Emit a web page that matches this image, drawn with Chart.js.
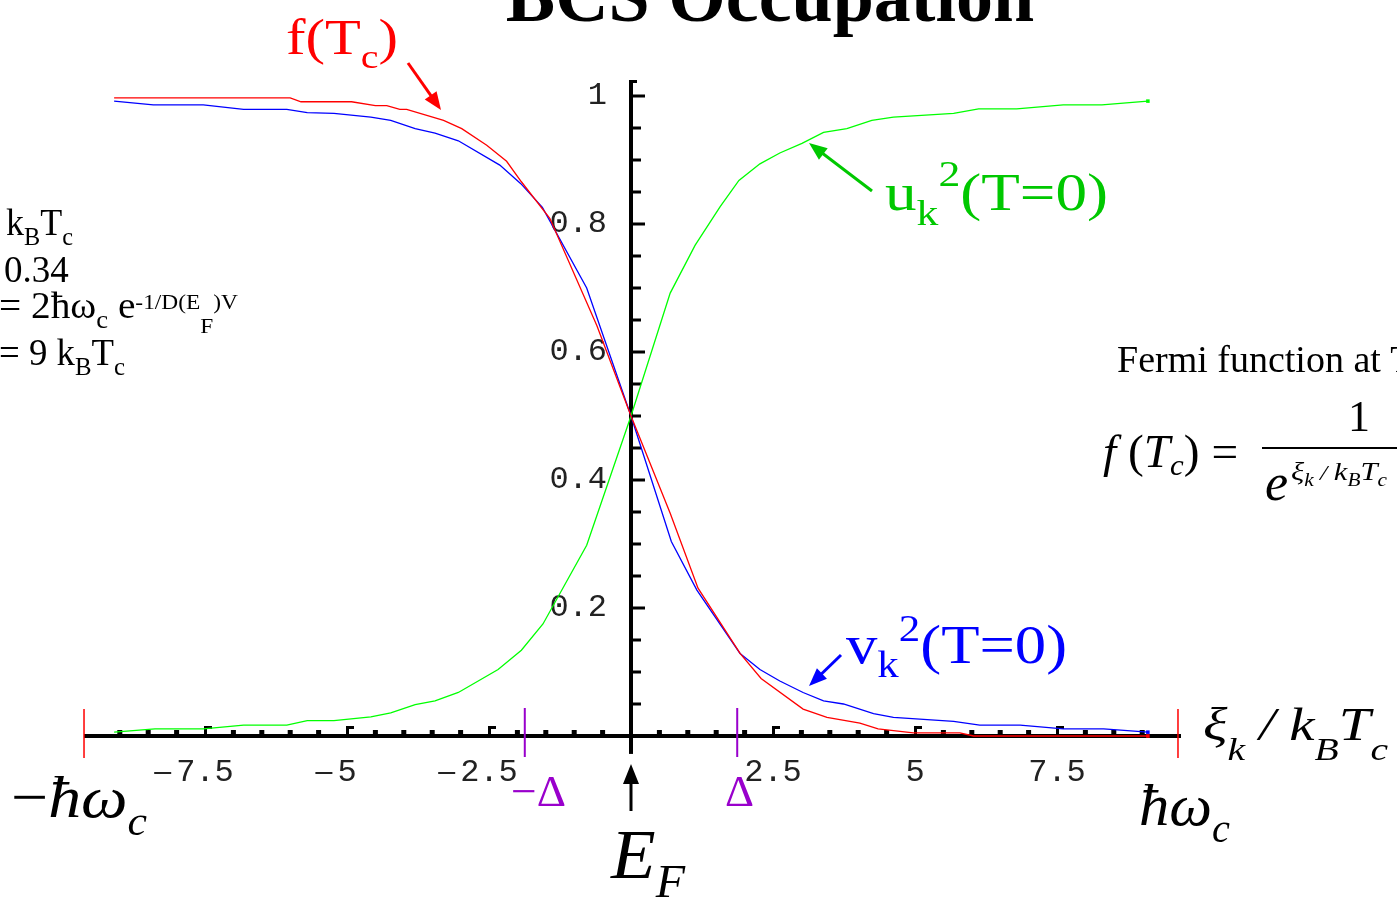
<!DOCTYPE html>
<html>
<head>
<meta charset="utf-8">
<title>BCS Occupation</title>
<script src="https://cdn.jsdelivr.net/npm/chart.js@4.4.0/dist/chart.umd.min.js"></script>
<style>
    html, body { margin: 0; padding: 0; background: #fff; overflow: hidden; }
    #wrap { width: 1397px; height: 897px; position: relative; }
</style>
</head>
<body>
<div id="wrap"><canvas id="bcs"></canvas></div>
<script>
// f(Tc) : Fermi function at Tc (red)
const fermiX = [-9.1, -6.0, -5.81, -4.92, -4.5, -4.3, -4.07, -3.95, -3.3, -2.98, -2.54, -2.19, -1.93, -1.43, -0.6, 0,
                0.69, 1.18, 1.92, 2.29, 3.03, 3.45, 4.03, 4.35, 4.97, 5.79, 6.03, 9.1];
const fermiY = [0.997, 0.997, 0.991, 0.991, 0.985, 0.985, 0.979, 0.979, 0.962, 0.949, 0.923, 0.898, 0.866, 0.809, 0.641, 0.5,
                0.348, 0.231, 0.129, 0.09, 0.042, 0.029, 0.02, 0.011, 0.005, 0.005, 0.0, 0.0];

// vk^2 at T=0 (blue)
const vX = [-9.1, -8.41, -7.53, -6.82, -6.06, -5.7, -5.23, -4.58, -4.23, -3.8, -3.45, -3.04, -2.31, -1.94, -1.56, -0.78, 0,
            0.71, 1.16, 1.92, 2.27, 2.62, 3.03, 3.39, 3.74, 4.27, 4.62, 5.68, 6.14, 6.85, 7.61, 8.32, 9.1];
const vY = [0.992, 0.986, 0.986, 0.979, 0.979, 0.974, 0.973, 0.967, 0.962, 0.949, 0.942, 0.93, 0.892, 0.863, 0.826, 0.7, 0.5,
            0.304, 0.228, 0.129, 0.104, 0.086, 0.068, 0.055, 0.05, 0.035, 0.029, 0.023, 0.017, 0.017, 0.011, 0.011, 0.006];

// uk^2 at T=0 (green)
const uX = [-9.1, -8.38, -7.53, -6.82, -6.06, -5.7, -5.23, -4.58, -4.23, -3.8, -3.45, -3.04, -2.34, -1.93, -1.55, -0.78, 0,
            0.69, 1.13, 1.57, 1.9, 2.27, 2.62, 3.01, 3.39, 3.8, 4.24, 4.62, 5.68, 6.12, 6.79, 7.61, 8.29, 9.1];
const uY = [0.006, 0.011, 0.011, 0.017, 0.017, 0.024, 0.024, 0.03, 0.036, 0.049, 0.055, 0.068, 0.104, 0.134, 0.175, 0.298, 0.5,
            0.692, 0.767, 0.827, 0.868, 0.894, 0.911, 0.926, 0.943, 0.949, 0.962, 0.967, 0.973, 0.98, 0.98, 0.986, 0.986, 0.992];

const xTickValues = [-7.5, -5, -2.5, 2.5, 5, 7.5];
const xTickLabels = ['-7.5', '-5', '-2.5', '2.5', '5', '7.5'];
const yTickValues = [0.2, 0.4, 0.6, 0.8, 1];
const yTickLabels = ['0.2', '0.4', '0.6', '0.8', '1'];

const gap = 1.87;     // Delta, in kB Tc
const cutoff = 9.63;  // hbar omega_c, in kB Tc

const serif = '"Liberation Serif", "Times New Roman", serif';
const mono = '"Liberation Mono", "Courier New", monospace';
const fnt = (size, style) => (style ? style + ' ' : '') + size + 'px ' + serif;
const purple = '#9900cc';
const green = '#00c800';

const toPoints = (xs, ys) => xs.map((x, i) => ({x: x, y: ys[i]}));

// text made of pieces (sub / superscripts), optionally squeezed to a width
let rich = (ctx, x, y, parts, color, width) => {
    let total = 0;
    parts.forEach((p) => {
        ctx.font = p.f;
        total += ctx.measureText(p.t).width;
    });
    let sx = width ? width / total : 1;
    ctx.save();
    ctx.translate(x, y);
    ctx.scale(sx, 1);
    ctx.textBaseline = 'alphabetic';
    ctx.textAlign = 'left';
    let cx = 0;
    parts.forEach((p) => {
        ctx.font = p.f;
        ctx.fillStyle = p.c || color;
        ctx.fillText(p.t, cx, p.dy || 0);
        cx += ctx.measureText(p.t).width;
    });
    ctx.restore();
};

let arrow = (ctx, x1, y1, x2, y2, color, lw, head) => {
    let a = Math.atan2(y2 - y1, x2 - x1);
    let c = Math.cos(a), s = Math.sin(a);
    ctx.save();
    ctx.strokeStyle = color;
    ctx.fillStyle = color;
    ctx.lineWidth = lw;
    ctx.beginPath();
    ctx.moveTo(x1, y1);
    ctx.lineTo(x2 - c * head * 0.8, y2 - s * head * 0.8);
    ctx.stroke();
    ctx.beginPath();
    ctx.moveTo(x2, y2);
    ctx.lineTo(x2 - head * c + head * 0.4 * s, y2 - head * s - head * 0.4 * c);
    ctx.lineTo(x2 - head * c - head * 0.4 * s, y2 - head * s + head * 0.4 * c);
    ctx.closePath();
    ctx.fill();
    ctx.restore();
};

const axesPlugin = {
    id: 'bcsAxes',
    beforeDatasetsDraw(chart) {
        const ctx = chart.ctx;
        const xs = chart.scales.x, ys = chart.scales.y;
        const x0 = xs.getPixelForValue(0), y0 = ys.getPixelForValue(0);
        ctx.save();
        ctx.fillStyle = '#000';

        // x axis
        let xl = xs.getPixelForValue(-cutoff), xr = xs.getPixelForValue(cutoff) + 3;
        ctx.fillRect(xl, y0 - 2, xr - xl, 4);

        // y axis
        let yt = ys.getPixelForValue(1.025), yb = ys.getPixelForValue(-0.028);
        ctx.fillRect(x0 - 2, yt, 4, yb - yt);
        ctx.fillRect(x0, yt, 6, 3);

        // y ticks, every 0.05
        for (let k = 1; k <= 20; k++) {
            let py = ys.getPixelForValue(k * 0.05);
            ctx.fillRect(x0, py - 1.5, k % 4 === 0 ? 14 : 10, 3);
        }

        // x ticks, every 0.5
        for (let k = -18; k <= 18; k++) {
            if (k === 0) continue;
            let px = xs.getPixelForValue(k * 0.5);
            if (k % 5 === 0) {
                ctx.fillRect(px - 1, y0 - 10, 3, 10);
                ctx.fillRect(px - 1, y0 - 10, 8, 3);
            } else {
                ctx.fillRect(px - 2.5, y0 - 6, 5, 5);
            }
        }

        // cutoff marks (red) and gap marks (purple)
        ctx.fillStyle = '#ff0000';
        [-cutoff, cutoff].forEach((v) => {
            ctx.fillRect(xs.getPixelForValue(v) - 0.75, y0 - 27, 1.5, 49);
        });
        ctx.fillStyle = purple;
        [-gap, gap].forEach((v) => {
            ctx.fillRect(xs.getPixelForValue(v) - 1, y0 - 28, 2, 49);
        });

        // tick labels
        ctx.fillStyle = '#222';
        ctx.font = '32px ' + mono;
        ctx.textBaseline = 'middle';
        ctx.textAlign = 'right';
        yTickValues.forEach((v, i) => {
            ctx.fillText(yTickLabels[i], x0 - 24, ys.getPixelForValue(v));
        });
        xTickValues.forEach((v, i) => {
            let lab = xTickLabels[i];
            let neg = lab.charAt(0) === '-';
            let body = neg ? lab.slice(1) : lab;
            let w = ctx.measureText(body).width;
            let px = xs.getPixelForValue(v);
            ctx.textAlign = 'left';
            ctx.fillText(body, px - w / 2, y0 + 37);
            if (neg) {
                ctx.fillRect(px - w / 2 - 22, y0 + 36, 17, 2);
            }
        });
        ctx.restore();
    }
};

const notesPlugin = {
    id: 'bcsNotes',
    afterDraw(chart) {
        const ctx = chart.ctx;
        const xs = chart.scales.x, ys = chart.scales.y;
        const x0 = xs.getPixelForValue(0), y0 = ys.getPixelForValue(0);
        ctx.save();

        // title
        ctx.fillStyle = '#000';
        ctx.font = fnt(74, 'bold');
        ctx.textAlign = 'center';
        ctx.textBaseline = 'alphabetic';
        ctx.fillText('BCS Occupation', 770, 21);

        // curve labels
        rich(ctx, 286, 54, [
            {t: 'f(T', f: fnt(50)}, {t: 'c', f: fnt(34), dy: 14}, {t: ')', f: fnt(50)}
        ], '#ff0000', 112);
        arrow(ctx, 408, 63, 441, 110, '#ff0000', 3, 18);

        rich(ctx, 885, 210, [
            {t: 'u', f: fnt(52)}, {t: 'k', f: fnt(36), dy: 15}, {t: '2', f: fnt(36), dy: -24},
            {t: '(T=0)', f: fnt(52)}
        ], green, 223);
        arrow(ctx, 872, 191, 809, 143, green, 3, 18);

        rich(ctx, 846, 663, [
            {t: 'v', f: fnt(54)}, {t: 'k', f: fnt(37), dy: 14}, {t: '2', f: fnt(37), dy: -22},
            {t: '(T=0)', f: fnt(54)}
        ], '#0000ff', 221);
        arrow(ctx, 841, 655, 809, 686, '#0000ff', 3, 18);

        // axis annotations
        rich(ctx, 1203, 740, [
            {t: '\u03BE', f: fnt(46, 'italic')}, {t: 'k', f: fnt(32, 'italic'), dy: 20},
            {t: ' / ', f: fnt(46, 'italic')}, {t: 'k', f: fnt(46, 'italic')},
            {t: 'B', f: fnt(32, 'italic'), dy: 20}, {t: 'T', f: fnt(46, 'italic')},
            {t: 'c', f: fnt(32, 'italic'), dy: 20}
        ], '#000', 185);

        rich(ctx, 11, 817, [
            {t: '\u2212', f: fnt(60)}, {t: '\u0127\u03C9', f: fnt(60, 'italic')},
            {t: 'c', f: fnt(40, 'italic'), dy: 18}
        ], '#000', 136);
        rich(ctx, 1139, 825, [
            {t: '\u0127\u03C9', f: fnt(60, 'italic')}, {t: 'c', f: fnt(40, 'italic'), dy: 17}
        ], '#000', 91);

        rich(ctx, 611, 878, [
            {t: 'E', f: fnt(70, 'italic')}, {t: 'F', f: fnt(46, 'italic'), dy: 19}
        ], '#000', 74);
        arrow(ctx, x0, y0 + 75, x0, y0 + 28, '#000', 3, 20);

        rich(ctx, 511, 806, [{t: '\u2212\u0394', f: fnt(44)}], purple, 55);
        rich(ctx, 725, 806, [{t: '\u0394', f: fnt(44)}], purple, 29);

        // parameters (left)
        rich(ctx, 6, 235, [
            {t: 'k', f: fnt(37)}, {t: 'B', f: fnt(25), dy: 10}, {t: 'T', f: fnt(37)}, {t: 'c', f: fnt(25), dy: 10}
        ], '#000', 67);
        rich(ctx, 4, 282, [{t: '0.34', f: fnt(37)}], '#000');
        rich(ctx, -1, 318, [
            {t: '= 2\u0127\u03C9', f: fnt(37)}, {t: 'c', f: fnt(25), dy: 10}, {t: ' e', f: fnt(37)},
            {t: '-1/D(E', f: fnt(22), dy: -9}, {t: 'F', f: fnt(22), dy: 15}, {t: ')V', f: fnt(22), dy: -9}
        ], '#000', 239);
        rich(ctx, -1, 365, [
            {t: '= 9 k', f: fnt(37)}, {t: 'B', f: fnt(25), dy: 10}, {t: 'T', f: fnt(37)}, {t: 'c', f: fnt(25), dy: 10}
        ], '#000', 126);

        // Fermi function (right)
        rich(ctx, 1117, 372, [{t: 'Fermi function at T', f: fnt(38)}, {t: 'c', f: fnt(26), dy: 9}], '#000');
        rich(ctx, 1103, 467, [
            {t: 'f', f: fnt(46, 'italic')}, {t: ' (', f: fnt(46)}, {t: 'T', f: fnt(46, 'italic')},
            {t: 'c', f: fnt(30, 'italic'), dy: 8}, {t: ') = ', f: fnt(46)}
        ], '#000', 147);
        ctx.fillStyle = '#000';
        ctx.fillRect(1262, 447, 200, 2);
        rich(ctx, 1348, 431, [{t: '1', f: fnt(44)}], '#000');
        rich(ctx, 1265, 500, [{t: 'e', f: fnt(52, 'italic')}], '#000');
        rich(ctx, 1291, 480, [
            {t: '\u03BE', f: fnt(26, 'italic')}, {t: 'k', f: fnt(18, 'italic'), dy: 6},
            {t: ' / ', f: fnt(22, 'italic')}, {t: 'k', f: fnt(26, 'italic')},
            {t: 'B', f: fnt(18, 'italic'), dy: 6}, {t: 'T', f: fnt(26, 'italic')},
            {t: 'c', f: fnt(18, 'italic'), dy: 6}
        ], '#000', 96);

        ctx.restore();
    }
};

let lastDot = (n) => (c) => (c.dataIndex === n - 1 ? 2.5 : 0);

let bcsChart = new Chart(document.getElementById('bcs').getContext('2d'), {
    type: 'scatter',
    data: {
        datasets: [{
            label: 'f(Tc)',
            data: toPoints(fermiX, fermiY),
            borderColor: '#ff0000',
            backgroundColor: '#ff0000',
            borderWidth: 1.3,
            showLine: true,
            tension: 0,
            pointStyle: 'rect',
            pointRadius: lastDot(fermiX.length),
            pointHoverRadius: 0,
            pointBorderWidth: 0,
        }, {
            label: 'vk2',
            data: toPoints(vX, vY),
            borderColor: '#0000ff',
            backgroundColor: '#0000ff',
            borderWidth: 1.3,
            showLine: true,
            tension: 0,
            pointStyle: 'rect',
            pointRadius: lastDot(vX.length),
            pointHoverRadius: 0,
            pointBorderWidth: 0,
        }, {
            label: 'uk2',
            data: toPoints(uX, uY),
            borderColor: '#00ff00',
            backgroundColor: '#00ff00',
            borderWidth: 1.3,
            showLine: true,
            tension: 0,
            pointStyle: 'rect',
            pointRadius: lastDot(uX.length),
            pointHoverRadius: 0,
            pointBorderWidth: 0,
        }]
    },
    options: {
        responsive: true,
        maintainAspectRatio: false,
        animation: false,
        events: [],
        layout: { padding: 0, autoPadding: false },
        plugins: {
            legend: { display: false },
            tooltip: { enabled: false },
        },
        scales: {
            x: { type: 'linear', display: false, min: -631 / 56.8, max: (1397 - 631) / 56.8 },
            y: { type: 'linear', display: false, min: (736 - 897) / 640, max: 736 / 640 },
        }
    },
    plugins: [axesPlugin, notesPlugin]
});
</script>
</body>
</html>
